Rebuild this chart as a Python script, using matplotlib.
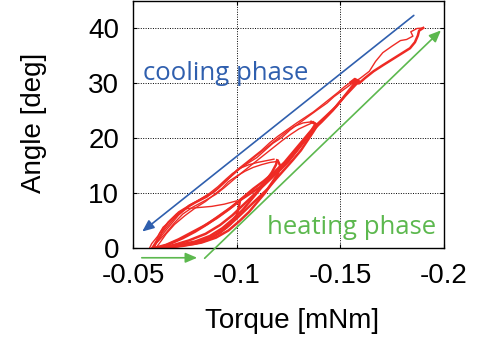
import matplotlib
matplotlib.use("Agg")
import matplotlib.pyplot as plt

plt.rcParams['font.family'] = ['Liberation Sans', 'DejaVu Sans']
plt.rcParams['axes.unicode_minus'] = False

# torque [mNm] / angle [deg], one loop per pair
# loop 1 (up to 40 deg)
heat1_x = [-0.060, -0.066, -0.072, -0.0775, -0.084, -0.0905, -0.096, -0.1016, -0.106, -0.1112,
           -0.116, -0.1209, -0.125, -0.1291, -0.133, -0.1368, -0.141, -0.1464, -0.151, -0.156,
           -0.158, -0.155, -0.159, -0.162, -0.166, -0.1705, -0.176, -0.1836, -0.186, -0.1874,
           -0.188, -0.190]
heat1_y = [0.0, 0.6, 1.6, 2.7, 4.0, 5.5, 7.0, 8.7, 9.8, 11.1,
           12.8, 14.2, 15.8, 17.8, 19.6, 21.5, 23.0, 25.1, 27.2, 29.6,
           30.6, 30.2, 30.0, 31.0, 32.2, 33.3, 34.6, 36.4, 37.5, 38.7,
           39.6, 40.1]
cool1_x = [-0.190, -0.187, -0.184, -0.185, -0.182, -0.179, -0.175, -0.1705, -0.167, -0.164,
           -0.1595, -0.155, -0.151, -0.147, -0.1435, -0.139, -0.1339, -0.130, -0.1257, -0.122,
           -0.1175, -0.113, -0.1098, -0.106, -0.1016, -0.098, -0.0953, -0.091, -0.0857, -0.080,
           -0.0741, -0.069, -0.0645, -0.062, -0.059, -0.058]
cool1_y = [40.1, 40.0, 39.4, 38.6, 38.0, 37.8, 36.8, 35.6, 34.0, 32.2,
           30.9, 29.8, 28.7, 27.6, 26.4, 25.2, 23.8, 22.7, 21.5, 20.2,
           19.1, 17.6, 16.5, 15.6, 14.5, 13.3, 12.4, 10.8, 9.3, 8.2,
           6.9, 5.3, 3.8, 2.2, 0.8, 0.0]

# loop 2 (up to 30 deg)
heat2_x = [-0.062, -0.068, -0.074, -0.080, -0.086, -0.092, -0.098, -0.103, -0.108, -0.113,
           -0.118, -0.123, -0.127, -0.131, -0.135, -0.139, -0.143, -0.148, -0.152, -0.156,
           -0.159, -0.157, -0.155]
heat2_y = [0.0, 0.8, 1.8, 3.0, 4.4, 6.0, 7.6, 9.2, 10.8, 12.2,
           13.8, 15.6, 17.4, 19.2, 21.0, 22.6, 24.0, 25.8, 27.6, 29.2,
           30.4, 30.8, 30.2]
cool2_x = [-0.155, -0.152, -0.149, -0.145, -0.141, -0.137, -0.133, -0.129, -0.1245, -0.120,
           -0.116, -0.112, -0.108, -0.104, -0.100, -0.097, -0.093, -0.089, -0.084, -0.078,
           -0.072, -0.067, -0.063, -0.061, -0.059]
cool2_y = [30.2, 29.4, 28.4, 27.2, 26.0, 24.8, 23.8, 22.8, 21.6, 20.4,
           19.2, 17.8, 16.6, 15.4, 14.2, 13.0, 11.6, 10.2, 9.2, 8.0,
           6.6, 4.8, 2.8, 1.2, 0.0]

# loop 3 (up to 23 deg), two passes
heat3_x = [-0.061, -0.069, -0.077, -0.085, -0.092, -0.098, -0.103, -0.108, -0.113, -0.118,
           -0.122, -0.126, -0.130, -0.133, -0.136, -0.138, -0.136]
heat3_y = [0.0, 0.5, 1.4, 2.6, 4.2, 6.0, 7.8, 9.6, 11.4, 13.2,
           14.8, 16.4, 18.2, 19.8, 21.4, 22.6, 23.0]
cool3_x = [-0.136, -0.132, -0.128, -0.124, -0.120, -0.116, -0.112, -0.108, -0.104, -0.100,
           -0.096, -0.092, -0.088, -0.083, -0.077, -0.072, -0.068, -0.064, -0.061, -0.060]
cool3_y = [23.0, 22.8, 22.2, 21.2, 20.0, 18.8, 17.6, 16.4, 15.2, 14.0,
           12.6, 11.2, 10.0, 9.0, 7.8, 6.2, 4.6, 2.8, 1.0, 0.0]
heat3b_x = [-0.063, -0.072, -0.081, -0.089, -0.095, -0.100, -0.105, -0.110, -0.115, -0.119,
            -0.123, -0.127, -0.131, -0.134, -0.137, -0.139, -0.137]
heat3b_y = [0.0, 0.4, 1.1, 2.2, 3.7, 5.4, 7.2, 9.0, 10.8, 12.6,
            14.3, 16.0, 17.8, 19.5, 21.2, 22.4, 22.9]
cool3b_x = [-0.137, -0.134, -0.130, -0.126, -0.122, -0.118, -0.114, -0.110, -0.106, -0.102,
            -0.098, -0.094, -0.090, -0.085, -0.079, -0.074, -0.070, -0.066, -0.062, -0.059]
cool3b_y = [22.9, 22.4, 21.7, 20.7, 19.6, 18.4, 17.2, 16.0, 14.8, 13.6,
            12.3, 11.0, 9.8, 8.7, 7.5, 6.2, 4.6, 2.8, 1.2, 0.0]

# loop 4 (up to 16 deg), two passes
heat4_x = [-0.062, -0.071, -0.080, -0.087, -0.093, -0.098, -0.103, -0.107, -0.111, -0.114,
           -0.117, -0.119, -0.1195]
heat4_y = [0.0, 0.5, 1.2, 2.2, 3.6, 5.2, 7.0, 8.8, 10.6, 12.2,
           13.8, 15.2, 16.0]
cool4_x = [-0.118, -0.114, -0.110, -0.106, -0.102, -0.098, -0.095, -0.091, -0.087, -0.082,
           -0.077, -0.072, -0.068, -0.064, -0.061, -0.060]
cool4_y = [16.2, 15.9, 15.6, 15.2, 14.6, 13.6, 12.6, 11.2, 10.0, 8.8,
           7.6, 6.0, 4.2, 2.4, 0.8, 0.0]
heat4b_x = [-0.064, -0.074, -0.083, -0.090, -0.096, -0.101, -0.106, -0.110, -0.114, -0.117,
            -0.120, -0.121, -0.120]
heat4b_y = [0.0, 0.4, 1.0, 1.9, 3.2, 4.8, 6.6, 8.4, 10.2, 11.9,
            13.6, 15.0, 15.8]
cool4b_x = [-0.120, -0.116, -0.112, -0.108, -0.104, -0.100, -0.096, -0.093, -0.089, -0.085,
            -0.080, -0.075, -0.070, -0.066, -0.063, -0.061]
cool4b_y = [15.8, 15.6, 15.2, 14.7, 14.0, 13.1, 12.1, 10.9, 9.7, 8.5,
            7.3, 5.9, 4.3, 2.6, 1.0, 0.0]

# loop 5 (up to 9 deg)
heat5_x = [-0.060, -0.070, -0.080, -0.086, -0.092, -0.097, -0.100, -0.101, -0.1016]
heat5_y = [0.0, 0.3, 0.8, 1.5, 2.8, 4.4, 6.0, 7.4, 8.6]
cool5_x = [-0.100, -0.094, -0.088, -0.082, -0.076, -0.071, -0.067, -0.064, -0.062, -0.060]
cool5_y = [8.6, 8.0, 7.6, 7.4, 7.2, 6.2, 4.6, 3.0, 1.4, 0.0]

heating = [(heat1_x, heat1_y), (heat2_x, heat2_y), (heat3_x, heat3_y), (heat3b_x, heat3b_y),
           (heat4_x, heat4_y), (heat4b_x, heat4b_y), (heat5_x, heat5_y)]
cooling = [(cool1_x, cool1_y), (cool2_x, cool2_y), (cool3_x, cool3_y), (cool3b_x, cool3b_y),
           (cool4_x, cool4_y), (cool4b_x, cool4b_y), (cool5_x, cool5_y)]

xticks = [-0.05, -0.1, -0.15, -0.2]
xtick_labels = ['-0.05', '-0.1', '-0.15', '-0.2']
yticks = [0, 10, 20, 30, 40]

red = '#ee2a24'
blue = '#2f5fae'
green = '#5cb84e'

fig = plt.figure(figsize=(4.81, 3.47), dpi=100)
ax = fig.add_axes([0.2765, 0.285, 0.6465, 0.712])

for x, y in heating:
    ax.plot(x, y, color=red, lw=1.8, solid_joinstyle='round')
for x, y in cooling:
    ax.plot(x, y, color=red, lw=1.0, solid_joinstyle='round')

# arrows
ax.annotate('', xy=(-0.0534, 2.7), xytext=(-0.1865, 42.7),
            arrowprops=dict(arrowstyle='-|>,head_length=0.7,head_width=0.3', color=blue, lw=1.2),
            annotation_clip=False)
ax.annotate('', xy=(-0.1995, 40.0), xytext=(-0.0836, -2.2),
            arrowprops=dict(arrowstyle='-|>,head_length=0.7,head_width=0.3', color=green, lw=1.2),
            annotation_clip=False)
ax.annotate('', xy=(-0.0823, -1.76), xytext=(-0.0529, -1.76),
            arrowprops=dict(arrowstyle='-|>,head_length=0.7,head_width=0.3', color=green, lw=1.2),
            annotation_clip=False)

ax.text(-0.0548, 31.8, 'cooling phase', color=blue, fontsize=18.5, family='Open Sans',
        va='center', ha='left')
ax.text(-0.1146, 3.8, 'heating phase', color=green, fontsize=18.5, family='Open Sans',
        va='center', ha='left')

ax.set_xlim(-0.05, -0.2)
ax.set_ylim(0, 45)
ax.set_xticks(xticks)
ax.set_xticklabels(xtick_labels)
ax.set_yticks(yticks)
ax.tick_params(direction='in', length=3, width=0.8, labelsize=20, top=True, right=True)
ax.tick_params(axis='x', pad=11)
ax.tick_params(axis='y', pad=10)
ax.grid(True, color='black', linestyle=(0, (1, 1.5)), lw=0.7)
for s in ax.spines.values():
    s.set_linewidth(1.0)

ax.set_xlabel('Torque [mNm]', fontsize=20)
ax.set_ylabel('Angle [deg]', fontsize=20)
ax.xaxis.set_label_coords(0.513, -0.242)
ax.yaxis.set_label_coords(-0.277, 0.505)

fig.savefig('out.png', dpi=100)
